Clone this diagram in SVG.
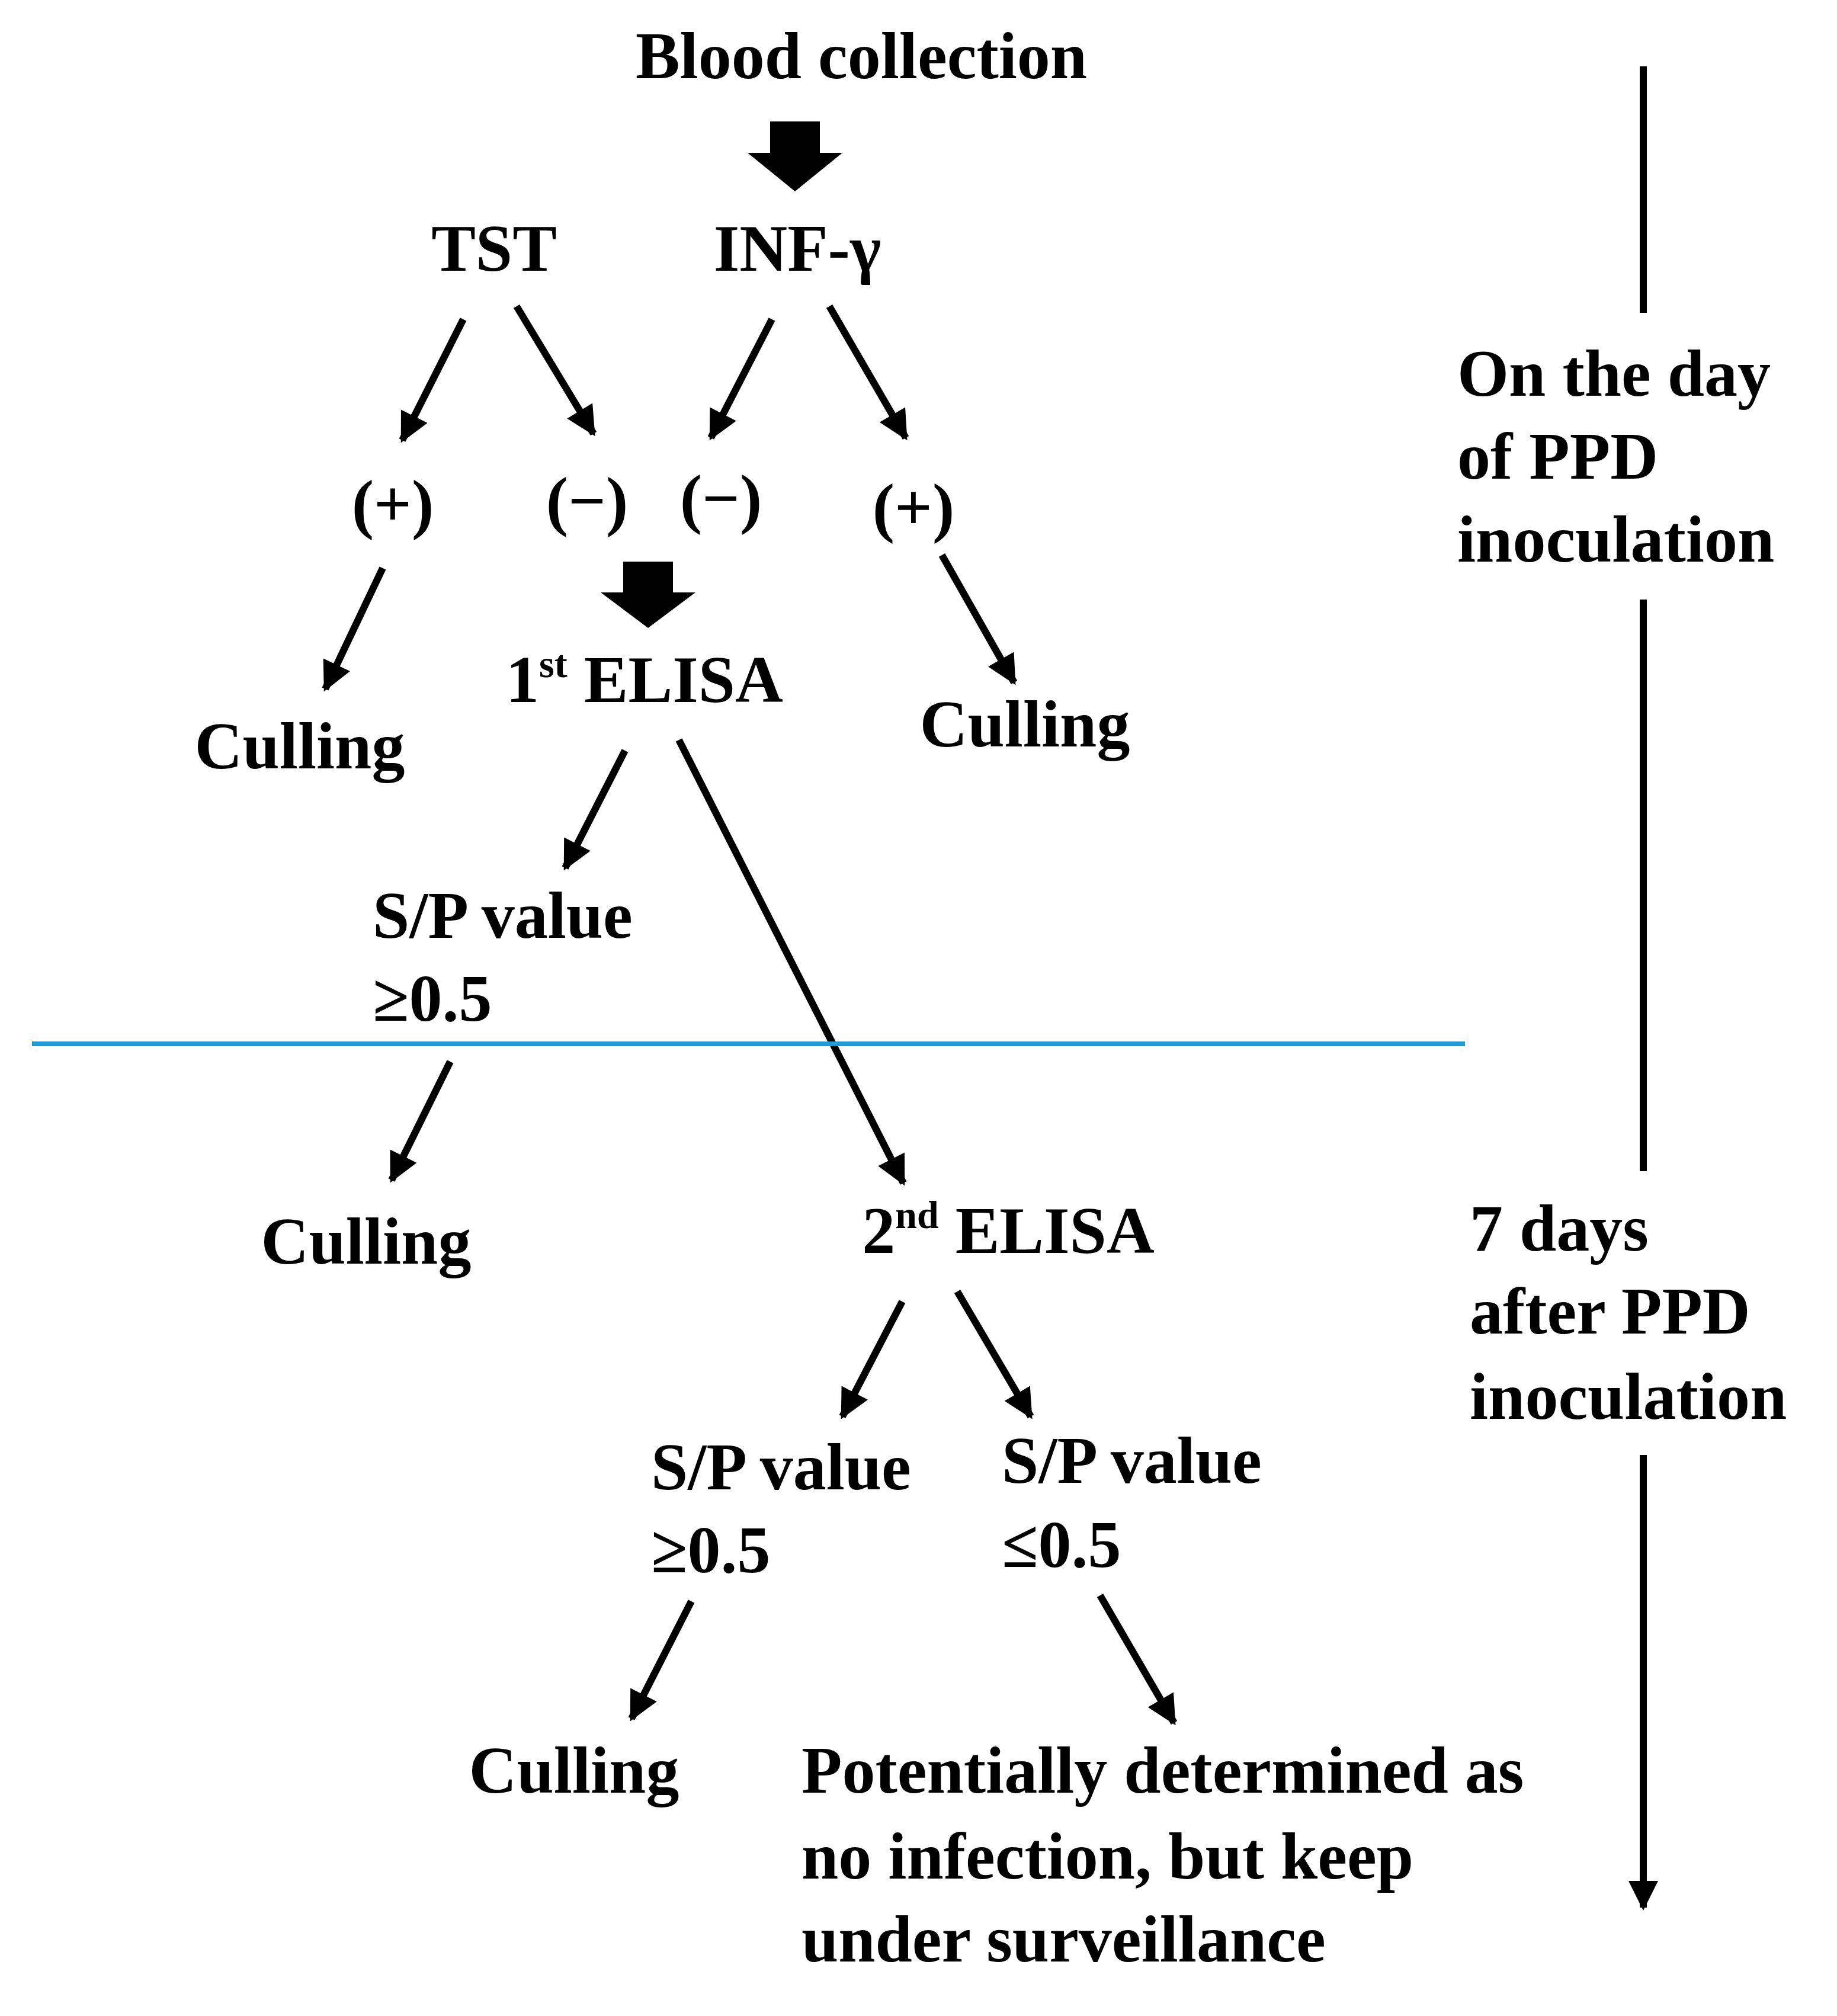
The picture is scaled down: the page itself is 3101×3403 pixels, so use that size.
<svg xmlns="http://www.w3.org/2000/svg" width="3101" height="3403" viewBox="0 0 3101 3403">
<style>
text{font-family:"Liberation Serif","Times New Roman",serif;font-weight:bold;font-size:112px;fill:#000}
.c{text-anchor:middle}
.a{stroke:#000;stroke-width:12;fill:none;marker-end:url(#ah)}
</style>
<defs>
<marker id="ah" viewBox="0 0 10 10" refX="9" refY="5" markerUnits="userSpaceOnUse" markerWidth="58" markerHeight="50" orient="auto"><path d="M0,0 L10,5 L0,10 z" fill="#000"/></marker>
</defs>
<rect width="3101" height="3403" fill="#fff"/>
<g id="blood"><text class="c" x="1454" y="132">Blood collection</text></g>
<g id="tst"><text class="c" x="834" y="457">TST</text></g>
<g id="inf"><text class="c" x="1346" y="457">INF-γ</text></g>
<g id="p1"><text class="c" x="663" y="888">(+)</text></g>
<g id="n1"><text class="c" x="991" y="883">(−)</text></g>
<g id="n2"><text class="c" x="1217" y="879">(−)</text></g>
<g id="p2"><text class="c" x="1542" y="894">(+)</text></g>
<g id="cull1"><text class="c" x="506" y="1297">Culling</text></g>
<g id="elisa1"><text class="c" x="1088" y="1185">1<tspan font-size="66" dy="-42">st</tspan><tspan dy="42"> ELISA</tspan></text></g>
<g id="cull2"><text class="c" x="1730" y="1260">Culling</text></g>
<g id="sp1"><text x="629" y="1583">S/P value</text><text x="629" y="1723">≥0.5</text></g>
<g id="cull3"><text class="c" x="618" y="2133">Culling</text></g>
<g id="elisa2"><text class="c" x="1702" y="2115">2<tspan font-size="66" dy="-42">nd</tspan><tspan dy="42"> ELISA</tspan></text></g>
<g id="sp2"><text x="1099" y="2514">S/P value</text><text x="1099" y="2654">≥0.5</text></g>
<g id="sp3"><text x="1691" y="2503">S/P value</text><text x="1691" y="2645">≤0.5</text></g>
<g id="cull4"><text class="c" x="969" y="3026">Culling</text></g>
<g id="final"><text x="1353" y="3026">Potentially determined as</text><text x="1353" y="3171">no infection, but keep</text><text x="1353" y="3311">under surveillance</text></g>
<g id="day0"><text x="2460" y="668">On the day</text><text x="2460" y="808">of PPD</text><text x="2460" y="948">inoculation</text></g>
<g id="day7"><text x="2481" y="2111">7 days</text><text x="2481" y="2251">after PPD</text><text x="2481" y="2395">inoculation</text></g>
<g id="connectors">
<path d="M1300,205 h84 v53 h38 l-80,65 l-80,-65 h38 z" fill="#000"/>
<path d="M1052,948 h84 v52 h38 l-80,60 l-80,-60 h38 z" fill="#000"/>
<line class="a" x1="782" y1="539" x2="679" y2="743"/>
<line class="a" x1="872" y1="517" x2="1002" y2="732"/>
<line class="a" x1="1303" y1="539" x2="1200" y2="739"/>
<line class="a" x1="1400" y1="517" x2="1529" y2="739"/>
<line class="a" x1="646" y1="959" x2="549" y2="1163"/>
<line class="a" x1="1590" y1="937" x2="1712" y2="1152"/>
<line class="a" x1="1055" y1="1267" x2="954" y2="1465"/>
<line class="a" x1="1146" y1="1249" x2="1525" y2="1997"/>
<line class="a" x1="760" y1="1792" x2="661" y2="1992"/>
<line class="a" x1="1523" y1="2197" x2="1422" y2="2391"/>
<line class="a" x1="1616" y1="2180" x2="1740" y2="2391"/>
<line class="a" x1="1167" y1="2703" x2="1066" y2="2901"/>
<line class="a" x1="1857" y1="2693" x2="1982" y2="2908"/>
<line x1="54" y1="1762" x2="2473" y2="1762" stroke="#1e9ad6" stroke-width="8"/>
<line x1="2774" y1="112" x2="2774" y2="528" stroke="#000" stroke-width="12"/>
<line x1="2774" y1="1012" x2="2774" y2="1977" stroke="#000" stroke-width="12"/>
<line class="a" x1="2774" y1="2456" x2="2774" y2="3220"/>
</g>
</svg>
